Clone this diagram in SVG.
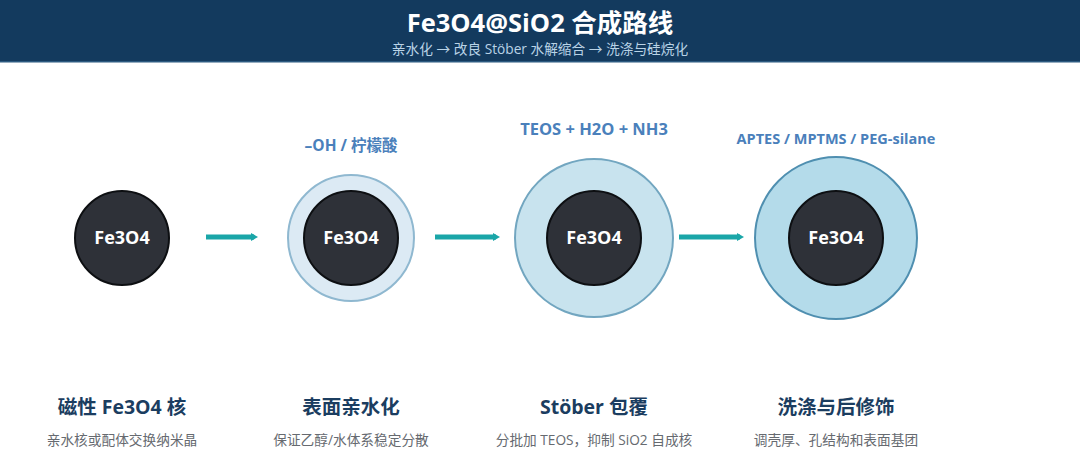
<svg xmlns="http://www.w3.org/2000/svg" width="1080" height="473" viewBox="0 0 1080 473">
<defs>
<style>
.f{font-family:"Open Sans","Noto Sans","Noto Sans CJK SC",sans-serif}
.core{fill:#2e3138;stroke:#0d0f12;stroke-width:2}
.ct{font-size:18px;font-weight:700;fill:#ffffff;text-anchor:middle}
.lbl{font-weight:700;fill:#4a80bb;text-anchor:middle}
.ttl{font-size:19.5px;font-weight:700;fill:#1b3d60;text-anchor:middle}
.sub{font-size:13.7px;fill:#666a70;text-anchor:middle}
.arr{stroke:#1aa6a8;stroke-width:5;fill:none}
</style>
<marker id="ah" markerWidth="7" markerHeight="8" refX="3" refY="4" orient="auto" markerUnits="userSpaceOnUse" viewBox="0 0 7 8">
<path d="M0,0 L7,4 L0,8 Z" fill="#1aa6a8"/>
</marker>
</defs>
<rect width="1080" height="473" fill="#ffffff"/>
<g id="header">
<rect x="0" y="0" width="1080" height="62" fill="#133a5e"/>
<rect x="0" y="61" width="1080" height="1.5" fill="#2c5a80"/>
<text class="f" x="540" y="32" font-size="25.5" font-weight="700" fill="#ffffff" text-anchor="middle">Fe3O4@SiO2 合成路线</text>
<text class="f" x="540" y="54" font-size="13.7" fill="#b9d3e6" text-anchor="middle">亲水化 → 改良 Stöber 水解缩合 → 洗涤与硅烷化</text>
</g>
<g id="connectors">
<line class="arr" x1="206" y1="237" x2="254" y2="237" marker-end="url(#ah)"/>
<line class="arr" x1="435" y1="237" x2="496" y2="237" marker-end="url(#ah)"/>
<line class="arr" x1="679" y1="237" x2="740" y2="237" marker-end="url(#ah)"/>
</g>
<g id="step1">
<circle class="core" cx="122" cy="238" r="47"/>
<text class="f ct" x="122" y="244">Fe3O4</text>
<text class="f ttl" x="122" y="414">磁性 Fe3O4 核</text>
<text class="f sub" x="122" y="445">亲水核或配体交换纳米晶</text>
</g>
<g id="step2">
<circle cx="351" cy="238" r="63" fill="#dceaf4" stroke="#8fb8d0" stroke-width="2"/>
<circle class="core" cx="351" cy="238" r="47"/>
<text class="f ct" x="351" y="244">Fe3O4</text>
<text class="f lbl" x="351" y="151" font-size="15.5">–OH / 柠檬酸</text>
<text class="f ttl" x="351" y="414">表面亲水化</text>
<text class="f sub" x="351" y="445">保证乙醇/水体系稳定分散</text>
</g>
<g id="step3">
<circle cx="594" cy="238" r="79" fill="#c8e3ee" stroke="#72a6c0" stroke-width="2"/>
<circle class="core" cx="594" cy="238" r="47"/>
<text class="f ct" x="594" y="244">Fe3O4</text>
<text class="f lbl" x="594" y="135" font-size="16.5">TEOS + H2O + NH3</text>
<text class="f ttl" x="594" y="414">Stöber 包覆</text>
<text class="f sub" x="594" y="445">分批加 TEOS，抑制 SiO2 自成核</text>
</g>
<g id="step4">
<circle cx="836" cy="238" r="81" fill="#b4dbea" stroke="#4f8fb0" stroke-width="2"/>
<circle class="core" cx="836" cy="238" r="47"/>
<text class="f ct" x="836" y="244">Fe3O4</text>
<text class="f lbl" x="836" y="144" font-size="14.5">APTES / MPTMS / PEG-silane</text>
<text class="f ttl" x="836" y="414">洗涤与后修饰</text>
<text class="f sub" x="836" y="445">调壳厚、孔结构和表面基团</text>
</g>
</svg>
